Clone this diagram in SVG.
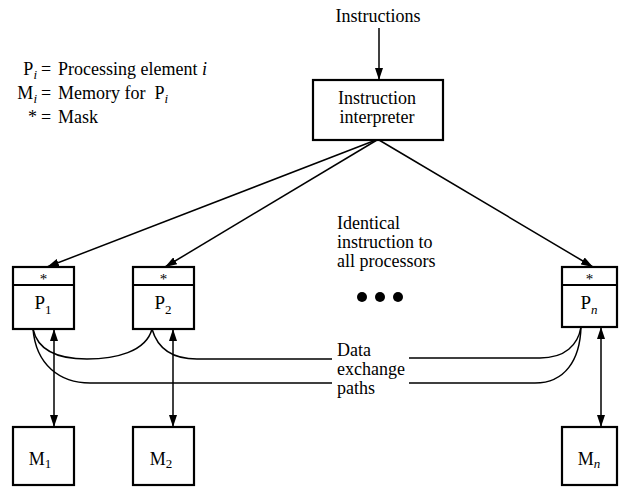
<svg xmlns="http://www.w3.org/2000/svg" width="619" height="487" viewBox="0 0 619 487">
<defs>
<marker id="ah" viewBox="0 0 12 8" refX="12" refY="4" markerWidth="12" markerHeight="8" markerUnits="userSpaceOnUse" orient="auto-start-reverse">
<path d="M0,0 L12,4 L0,8 Z" fill="#000"/>
</marker>
<style>
text{font-family:"Liberation Serif","Times New Roman",serif;font-size:18px;fill:#000}
.box{fill:#fff;stroke:#000;stroke-width:2.2}
.ln{fill:none;stroke:#000;stroke-width:1.5}
.it{font-style:italic}
.sub{font-size:13px}
.c{text-anchor:middle}
</style>
</defs>
<rect width="619" height="487" fill="#fff"/>

<g id="legend">
<text x="37" y="75" text-anchor="end">P<tspan class="sub it" dy="4">i</tspan></text>
<text x="46" y="75" class="c">=</text>
<text x="58" y="75">Processing element <tspan class="it">i</tspan></text>
<text x="37" y="99" text-anchor="end">M<tspan class="sub it" dy="4">i</tspan></text>
<text x="46" y="99" class="c">=</text>
<text x="58" y="99" xml:space="preserve">Memory for  P<tspan class="sub it" dy="4">i</tspan></text>
<text x="37" y="123" text-anchor="end">*</text>
<text x="46" y="123" class="c">=</text>
<text x="58" y="123">Mask</text>
</g>

<g id="instructions">
<text x="378" y="22" class="c">Instructions</text>
</g>

<g id="interpreter">
<rect class="box" x="313" y="80" width="130" height="60"/>
<text x="377" y="104" class="c"><tspan x="377">Instruction</tspan><tspan x="377" dy="19">interpreter</tspan></text>
</g>

<g id="note-identical">
<text x="337" y="229"><tspan x="337">Identical</tspan><tspan x="337" dy="19">instruction to</tspan><tspan x="337" dy="19">all processors</tspan></text>
</g>

<g id="ellipsis">
<circle cx="362" cy="297" r="5"/>
<circle cx="380" cy="297" r="5"/>
<circle cx="398" cy="297" r="5"/>
</g>

<g id="P1">
<rect class="box" x="13" y="267" width="61" height="62"/>
<line x1="13" y1="285" x2="74" y2="285" stroke="#000" stroke-width="2"/>
<text x="43.5" y="284" class="c" style="font-size:15px">*</text>
<text x="43" y="309" class="c" style="font-size:19px">P<tspan class="sub" dy="5">1</tspan></text>
</g>

<g id="P2">
<rect class="box" x="133" y="267" width="61" height="62"/>
<line x1="133" y1="285" x2="194" y2="285" stroke="#000" stroke-width="2"/>
<text x="163.5" y="284" class="c" style="font-size:15px">*</text>
<text x="163" y="309" class="c" style="font-size:19px">P<tspan class="sub" dy="5">2</tspan></text>
</g>

<g id="Pn">
<rect class="box" x="562" y="267" width="55" height="60"/>
<line x1="562" y1="285" x2="617" y2="285" stroke="#000" stroke-width="2"/>
<text x="589.5" y="284" class="c" style="font-size:15px">*</text>
<text x="589" y="309" class="c" style="font-size:19px">P<tspan class="sub it" dy="5">n</tspan></text>
</g>

<g id="M1">
<rect class="box" x="13" y="427" width="61" height="58"/>
<text x="40" y="465" class="c">M<tspan class="sub" dy="3">1</tspan></text>
</g>

<g id="M2">
<rect class="box" x="133" y="427" width="61" height="58"/>
<text x="161" y="465" class="c">M<tspan class="sub" dy="3">2</tspan></text>
</g>

<g id="Mn">
<rect class="box" x="562" y="427" width="55" height="58"/>
<text x="589" y="465" class="c">M<tspan class="sub it" dy="3">n</tspan></text>
</g>

<g id="data-label">
<text x="337" y="356"><tspan x="337">Data</tspan><tspan x="337" dy="19">exchange</tspan><tspan x="337" dy="19">paths</tspan></text>
</g>

<g id="connectors">
<line class="ln" x1="379" y1="28" x2="379" y2="80" marker-end="url(#ah)"/>
<line class="ln" x1="376" y1="140" x2="47" y2="267" marker-end="url(#ah)"/>
<line class="ln" x1="377" y1="140" x2="165" y2="267" marker-end="url(#ah)"/>
<line class="ln" x1="379" y1="140" x2="593" y2="267" marker-end="url(#ah)"/>
<line class="ln" x1="54" y1="329" x2="54" y2="427" marker-start="url(#ah)" marker-end="url(#ah)"/>
<line class="ln" x1="173" y1="329" x2="173" y2="427" marker-start="url(#ah)" marker-end="url(#ah)"/>
<line class="ln" x1="601" y1="327" x2="601" y2="427" marker-start="url(#ah)" marker-end="url(#ah)"/>
<path class="ln" d="M33,329 C38,352 60,359 87,359 C115,359 146,352 152,329"/>
<path class="ln" d="M33,329 C36,365 60,383 90,383 L332,383"/>
<path class="ln" d="M409,383 L535,383 C565,383 580,360 581,327"/>
<path class="ln" d="M152,329 C158,350 175,359 197,359 L332,359"/>
<path class="ln" d="M409,358 L540,358 C565,358 578,345 581,327"/>
</g>
</svg>
